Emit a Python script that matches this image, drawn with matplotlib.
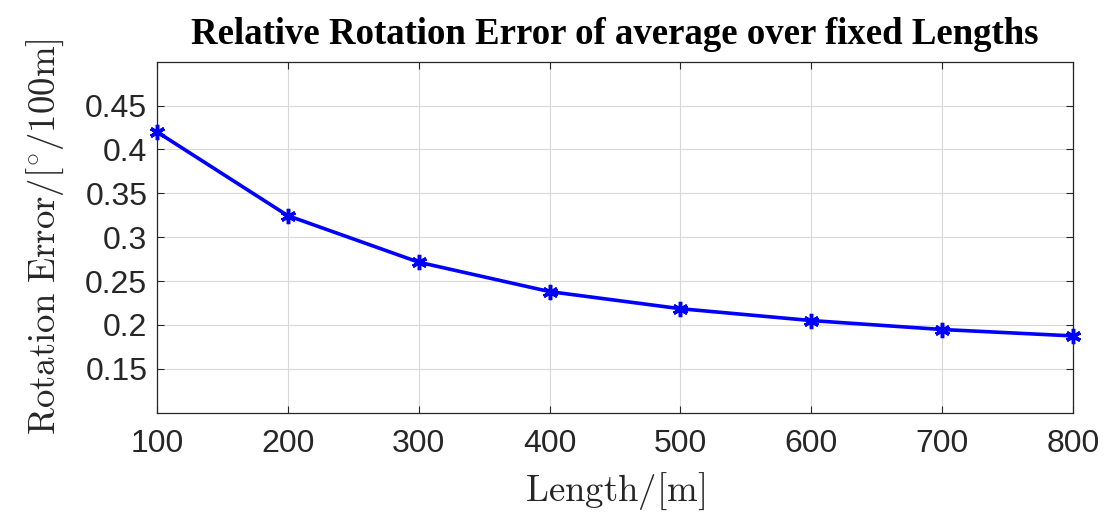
import matplotlib
matplotlib.use("Agg")
import matplotlib.pyplot as plt

lengths = [100, 200, 300, 400, 500, 600, 700, 800]
rot_error = [0.420, 0.3245, 0.2715, 0.238, 0.2185, 0.205, 0.1948, 0.1875]
yticks = [0.15, 0.2, 0.25, 0.3, 0.35, 0.4, 0.45]
ytick_labels = ["0.15", "0.2", "0.25", "0.3", "0.35", "0.4", "0.45"]
xticks = [100, 200, 300, 400, 500, 600, 700, 800]

plt.rcParams['mathtext.fontset'] = 'cm'

fig = plt.figure(figsize=(11.08, 5.22), dpi=100)
ax = fig.add_axes([0.1417, 0.2094, 0.9684 - 0.1417, 0.8818 - 0.2094])

ax.plot(lengths, rot_error, color='#0000ff', linewidth=2.6, marker=(6, 2, 0),
        markersize=11, markeredgewidth=2.5, zorder=3, clip_on=False)

ax.set_xlim(100, 800)
ax.set_ylim(0.1, 0.5)
ax.set_xticks(xticks)
ax.set_yticks(yticks)
ax.set_yticklabels(ytick_labels)
ax.grid(True, color='#d9d9d9', linewidth=0.8)
ax.set_axisbelow(True)
ax.tick_params(direction='in', length=5, width=0.8, top=True, right=True,
               labelsize=23, colors='#262626')
ax.tick_params(axis='x', pad=12)
ax.tick_params(axis='y', pad=7)
for lab in ax.get_xticklabels() + ax.get_yticklabels():
    lab.set_fontfamily('Liberation Sans')
for sp in ax.spines.values():
    sp.set_color('#262626')
    sp.set_linewidth(0.9)

ax.set_xlabel(r'$\mathrm{Length/[m]}$', fontsize=26.5, color='#262626', labelpad=8)
ax.set_ylabel(r'$\mathrm{Rotation\ Error/[^{\circ}/100m]}$', fontsize=26.5, color='#262626', labelpad=14)
ax.set_title('Relative Rotation Error of average over fixed Lengths',
             fontfamily='Liberation Serif', fontweight='bold', fontsize=26.5, pad=13)

fig.savefig('out.png', dpi=100)
